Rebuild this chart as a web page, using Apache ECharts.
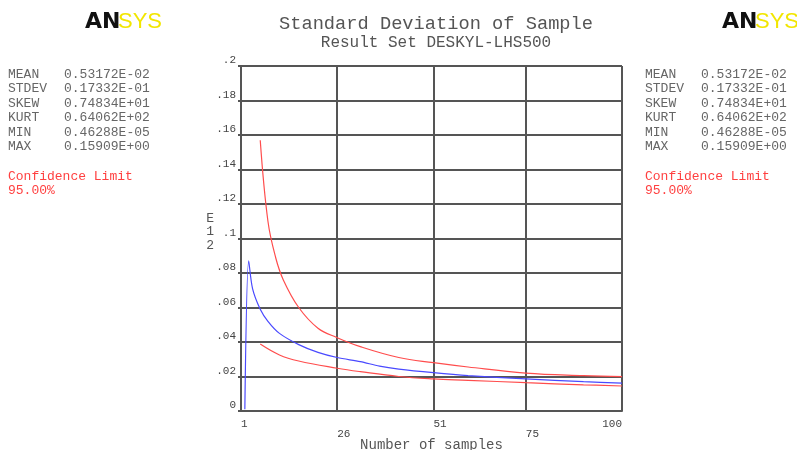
<!DOCTYPE html>
<html>
<head>
<meta charset="utf-8">
<script src="https://cdn.jsdelivr.net/npm/echarts@6/dist/echarts.min.js"></script>
<style>
html, body { margin: 0; padding: 0; background: #fff; }
#chart { width: 797px; height: 450px; }
</style>
</head>
<body>
<div id="chart"></div>
<script>
// x ticks and labels
var xTicks = [1, 26, 51, 75, 100]

// sample standard deviation (blue)
var meanX = [2, 3, 4, 6, 8, 11, 16, 21, 26, 32, 37, 42, 51, 60, 75, 90, 100]
var meanY = [0.001, 0.087, 0.071, 0.059, 0.052, 0.045, 0.0385, 0.034, 0.031, 0.0286, 0.026, 0.0243, 0.0222, 0.0205, 0.0186, 0.0170, 0.0162]

// confidence limits (red)
var upperX = [6, 8, 10, 12, 16, 21, 26, 32, 42, 51, 60, 75, 90, 100]
var upperY = [0.157, 0.11, 0.089, 0.076, 0.060, 0.048, 0.0425, 0.0373, 0.031, 0.028, 0.0255, 0.022, 0.0205, 0.0199]
var lowerX = [6, 11, 16, 26, 32, 42, 51, 60, 75, 90, 100]
var lowerY = [0.0388, 0.0325, 0.029, 0.0248, 0.0228, 0.020, 0.0186, 0.0178, 0.0164, 0.0152, 0.0145]

var statNames = ['MEAN', 'STDEV', 'SKEW', 'KURT', 'MIN', 'MAX']
var statValues = ['0.53172E-02', '0.17332E-01', '0.74834E+01', '0.64062E+02', '0.46288E-05', '0.15909E+00']

var mono = "'Liberation Mono', 'DejaVu Sans Mono', monospace"

function pairs (xs, ys) {
  return xs.map(function (x, i) { return [x, ys[i]] })
}

function statBlock (left) {
  var els = []
  statNames.forEach(function (n, i) {
    els.push({ type: 'text', left: left, top: 68 + i * 14.4,
      style: { text: n, font: '13px ' + mono, fill: '#666' } })
    els.push({ type: 'text', left: left + 56, top: 68 + i * 14.4,
      style: { text: statValues[i], font: '13px ' + mono, fill: '#666' } })
  })
  els.push({ type: 'text', left: left, top: 169,
    style: { text: 'Confidence Limit\n95.00%', font: '13px ' + mono, fill: '#ff4040', lineHeight: 14.4 } })
  return els
}

function logo (left) {
  return [
    { type: 'text', left: left, top: 11,
      style: { text: 'AN', font: 'bold 22px "DejaVu Sans", sans-serif', fill: '#111' } },
    { type: 'text', left: left + 33, top: 11,
      style: { text: 'SYS', font: '22px "Liberation Sans", sans-serif', fill: '#f2e600' } }
  ]
}

var chart = echarts.init(document.getElementById('chart'))

var option = {
  backgroundColor: '#fff',
  animation: false,
  title: {
    text: 'Standard Deviation of Sample',
    subtext: 'Result Set DESKYL-LHS500',
    left: 431,
    textAlign: 'center',
    top: 10,
    itemGap: 1,
    textStyle: { fontFamily: mono, fontSize: 18.7, fontWeight: 'normal', color: '#555' },
    subtextStyle: { fontFamily: mono, fontSize: 16, color: '#555' }
  },
  graphic: logo(85).concat(logo(722), statBlock(8), statBlock(645)),
  grid: { left: 241, right: 175, top: 66, bottom: 39, outerBoundsMode: 'none' },
  xAxis: {
    type: 'value',
    min: 1,
    max: 100,
    name: 'Number of samples',
    nameLocation: 'middle',
    nameGap: 27,
    nameMoveOverlap: false,
    nameTextStyle: { fontFamily: mono, fontSize: 14, color: '#555' },
    axisLine: { show: true, lineStyle: { color: '#555', width: 2 } },
    axisTick: { show: false, customValues: xTicks },
    axisLabel: {
      customValues: xTicks,
      align: 'left',
      alignMaxLabel: 'right',
      margin: 8,
      fontFamily: mono,
      fontSize: 11,
      color: '#444',
      lineHeight: 10,
      formatter: function (v) { return (v === 26 || v === 75) ? '\n' + v : String(v) }
    },
    splitLine: { show: true, lineStyle: { color: '#555', width: 2 } }
  },
  yAxis: {
    type: 'value',
    min: 0,
    max: 0.2,
    interval: 0.02,
    // trailing blank line lifts the stacked name a little
    name: 'E\n1\n2\n ',
    nameLocation: 'middle',
    nameRotate: 0,
    nameGap: 27,
    nameMoveOverlap: false,
    nameTextStyle: { fontFamily: mono, fontSize: 13, color: '#555', lineHeight: 13.5 },
    axisLine: { show: true, lineStyle: { color: '#555', width: 2 } },
    axisTick: { show: true, length: 3, lineStyle: { color: '#555', width: 2 } },
    axisLabel: {
      margin: 5,
      verticalAlign: 'bottom',
      fontFamily: mono,
      fontSize: 11,
      color: '#444',
      formatter: function (v) {
        if (v === 0) return '0'
        return String(Math.round(v * 100) / 100).replace(/^0/, '')
      }
    },
    splitLine: { show: true, lineStyle: { color: '#555', width: 2 } }
  },
  series: [
    {
      type: 'line', data: pairs(upperX, upperY), smooth: 0.4, showSymbol: false,
      lineStyle: { color: '#ff4d4d', width: 1.2 }
    },
    {
      type: 'line', data: pairs(lowerX, lowerY), smooth: 0.4, showSymbol: false,
      lineStyle: { color: '#ff4d4d', width: 1.2 }
    },
    {
      type: 'line', data: pairs(meanX, meanY), smooth: 0.3, showSymbol: false,
      lineStyle: { color: '#4a4aff', width: 1.2 }
    }
  ]
}

chart.setOption(option)
</script>
</body>
</html>
